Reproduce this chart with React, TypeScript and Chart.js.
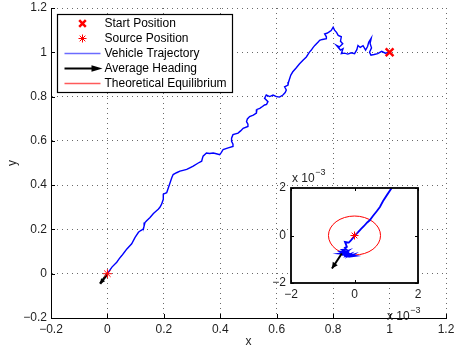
import React, { useEffect, useRef } from "react";
import { Chart, registerables } from "chart.js";

Chart.register(...registerables);

// ---------------- data ----------------
const legendLabels = [
  "Start Position",
  "Source Position",
  "Vehicle Trajectory",
  "Average Heading",
  "Theoretical Equilibrium",
];

const startPos = { x: 1.0, y: 1.0 };
const sourcePos = { x: 0.0, y: 0.0 };

const trajX = [
  1.0, 0.985, 0.972, 0.958, 0.945, 0.934, 0.929, 0.936, 0.931, 0.935, 0.926, 0.922, 0.915, 0.906, 0.896, 0.888,
  0.884, 0.876, 0.864, 0.852, 0.84, 0.829, 0.835, 0.826, 0.812, 0.822, 0.834, 0.826, 0.829, 0.818, 0.812, 0.805,
  0.8, 0.793, 0.786, 0.778, 0.77, 0.776, 0.776, 0.762, 0.752, 0.747, 0.735, 0.728, 0.722, 0.716, 0.705, 0.694,
  0.681, 0.668, 0.657, 0.65, 0.646, 0.642, 0.64, 0.628, 0.634, 0.63, 0.622, 0.61, 0.599, 0.587, 0.575, 0.563,
  0.557, 0.569, 0.564, 0.557, 0.546, 0.54, 0.53, 0.528, 0.517, 0.504, 0.496, 0.493, 0.498, 0.498, 0.481, 0.472,
  0.463, 0.445, 0.44, 0.44, 0.445, 0.445, 0.428, 0.41, 0.404, 0.398, 0.386, 0.375, 0.362, 0.351, 0.339, 0.336,
  0.334, 0.322, 0.304, 0.292, 0.281, 0.268, 0.257, 0.245, 0.233, 0.228, 0.222, 0.216, 0.21, 0.198, 0.198, 0.192,
  0.186, 0.18, 0.168, 0.163, 0.151, 0.139, 0.133, 0.13, 0.127, 0.118, 0.11, 0.098, 0.086, 0.069, 0.06, 0.051,
  0.042, 0.033, 0.016, 0.0,
];
const trajY = [
  1.0, 0.996, 1.004, 0.994, 0.99, 0.987, 1.0, 1.02, 1.04, 1.064, 1.045, 1.026, 1.01, 1.03, 1.022, 1.031,
  1.012, 0.994, 0.998, 0.992, 0.996, 0.994, 1.016, 1.01, 1.031, 1.024, 1.039, 1.05, 1.07, 1.076, 1.09, 1.1,
  1.113, 1.098, 1.092, 1.086, 1.083, 1.07, 1.061, 1.058, 1.054, 1.046, 1.031, 1.02, 1.009, 1.001, 0.979, 0.965,
  0.948, 0.928, 0.912, 0.897, 0.882, 0.866, 0.852, 0.844, 0.83, 0.818, 0.807, 0.798, 0.8, 0.807, 0.8, 0.807,
  0.792, 0.777, 0.765, 0.762, 0.752, 0.747, 0.742, 0.725, 0.716, 0.71, 0.699, 0.687, 0.675, 0.665, 0.657, 0.645,
  0.635, 0.628, 0.612, 0.598, 0.585, 0.575, 0.568, 0.561, 0.548, 0.538, 0.542, 0.545, 0.543, 0.545, 0.531, 0.518,
  0.508, 0.5, 0.486, 0.478, 0.471, 0.467, 0.463, 0.456, 0.448, 0.433, 0.411, 0.388, 0.366, 0.359, 0.336, 0.314,
  0.3, 0.291, 0.278, 0.272, 0.254, 0.239, 0.231, 0.215, 0.202, 0.195, 0.187, 0.164, 0.135, 0.112, 0.097, 0.082,
  0.068, 0.052, 0.03, 0.0,
];

const headingX = [0.0, -0.026];
const headingY = [0.0, -0.045];

// theoretical equilibrium circle (centre and radius)
const equilibriumCenter = { x: 0, y: 0 };
const equilibriumRadius = 0.00082;

// main axes
const mainMin = -0.2;
const mainMax = 1.2;
const mainStep = 0.2;

// inset (values in units of 10^-3)
const insetScaleText = "x 10";
const insetExponent = "\u22123";
const insetMin = -2;
const insetMax = 2;
const insetStep = 2;
const insetTrajX = [
  1.17, 1.02, 0.9, 0.8, 0.7, 0.58, 0.48, 0.4, 0.3, 0.2, 0.1, 0.02, -0.05, -0.12, -0.18, -0.3, -0.24,
  -0.3, -0.26, -0.38, -0.3, -0.45, -0.36, -0.46, -0.3, -0.4, -0.22, -0.28, -0.12, -0.2, -0.02, -0.1, 0.02,
  -0.15, -0.32, -0.2, -0.35, -0.08, -0.25, -0.42, -0.15,
];
const insetTrajY = [
  2.0, 1.7, 1.45, 1.2, 1.02, 0.82, 0.64, 0.55, 0.4, 0.27, 0.12, 0.02, -0.1, -0.22, -0.3, -0.27, -0.48,
  -0.52, -0.58, -0.6, -0.66, -0.68, -0.74, -0.76, -0.78, -0.83, -0.74, -0.86, -0.78, -0.88, -0.8, -0.88, -0.86,
  -0.82, -0.7, -0.64, -0.8, -0.84, -0.9, -0.72, -0.76,
];
const insetHeadingX = [-0.4, -0.71];
const insetHeadingY = [-0.76, -1.39];
const insetEquilibriumRadius = 0.82;

// ---------------- helpers ----------------
const FONT = "'Liberation Sans', Arial, Helvetica, sans-serif";
const TEXT = "#1e1e1e";
const RED = "#ff0000";
const BLUE = "#0000ff";

const fmt = (v: number | string) => {
  const n = Math.round(Number(v) * 10) / 10;
  return n < 0 ? "\u2212" + String(-n) : String(n);
};

const pts = (xs: number[], ys: number[]) => xs.map((x, i) => ({ x, y: ys[i] }));

function arrowHead(ctx: CanvasRenderingContext2D, x0: number, y0: number, x1: number, y1: number, len: number, hw: number) {
  const a = Math.atan2(y1 - y0, x1 - x0);
  const bx = x1 - Math.cos(a) * len;
  const by = y1 - Math.sin(a) * len;
  ctx.beginPath();
  ctx.moveTo(x1, y1);
  ctx.lineTo(bx + Math.sin(a) * hw, by - Math.cos(a) * hw);
  ctx.lineTo(bx - Math.sin(a) * hw, by + Math.cos(a) * hw);
  ctx.closePath();
  ctx.fill();
}

function drawEllipse(chart: any, c: { x: number; y: number }, r: number) {
  const xs = chart.scales.x;
  const ys = chart.scales.y;
  const cx = xs.getPixelForValue(c.x);
  const cy = ys.getPixelForValue(c.y);
  const rx = Math.abs(xs.getPixelForValue(c.x + r) - cx);
  const ry = Math.abs(ys.getPixelForValue(c.y + r) - cy);
  const ctx = chart.ctx as CanvasRenderingContext2D;
  ctx.save();
  ctx.strokeStyle = RED;
  ctx.lineWidth = 1;
  ctx.beginPath();
  ctx.ellipse(cx, cy, Math.max(rx, 0.3), Math.max(ry, 0.3), 0, 0, Math.PI * 2);
  ctx.stroke();
  ctx.restore();
}

function headArrow(chart: any, idx: number, len: number, hw: number) {
  const meta = chart.getDatasetMeta(idx);
  const d = meta.data;
  if (!d || d.length < 2) return;
  const ctx = chart.ctx as CanvasRenderingContext2D;
  ctx.save();
  ctx.fillStyle = "#000";
  arrowHead(ctx, d[0].x, d[0].y, d[d.length - 1].x, d[d.length - 1].y, len, hw);
  ctx.restore();
}

function inwardTicks(chart: any, len: number, sides: { left: boolean; right: boolean; top: boolean; bottom: boolean }, lw: number) {
  const ctx = chart.ctx as CanvasRenderingContext2D;
  const { left, right, top, bottom } = chart.chartArea;
  const xs = chart.scales.x;
  const ys = chart.scales.y;
  ctx.save();
  ctx.strokeStyle = "#000";
  ctx.lineWidth = lw;
  ctx.beginPath();
  xs.ticks.forEach((t: any) => {
    const px = Math.round(xs.getPixelForValue(t.value)) + 0.5;
    if (sides.bottom) { ctx.moveTo(px, bottom); ctx.lineTo(px, bottom - len); }
    if (sides.top) { ctx.moveTo(px, top); ctx.lineTo(px, top + len); }
  });
  ys.ticks.forEach((t: any) => {
    const py = Math.round(ys.getPixelForValue(t.value)) + 0.5;
    if (sides.left) { ctx.moveTo(left, py); ctx.lineTo(left + len, py); }
    if (sides.right) { ctx.moveTo(right, py); ctx.lineTo(right - len, py); }
  });
  ctx.stroke();
  ctx.restore();
}

function drawLegend(chart: any) {
  const ctx = chart.ctx as CanvasRenderingContext2D;
  const ca = chart.chartArea;
  const L = Math.round(ca.left + 6) + 0.5;
  const T = Math.round(ca.top + 6) + 0.5;
  const W = 175;
  const H = 78;
  ctx.save();
  ctx.fillStyle = "#fff";
  ctx.fillRect(L, T, W, H);
  ctx.strokeStyle = "#000";
  ctx.lineWidth = 1.2;
  ctx.strokeRect(L, T, W, H);
  const symX = L + 25;
  const lx0 = L + 7;
  const lx1 = L + 43;
  const tx = L + 47;
  ctx.font = `12px ${FONT}`;
  ctx.textBaseline = "middle";
  ctx.textAlign = "left";
  legendLabels.forEach((lab, i) => {
    const y = T + 9 + i * 15;
    ctx.save();
    if (i === 0) {
      ctx.strokeStyle = RED;
      ctx.lineWidth = 2.5;
      const r = 3.3;
      ctx.beginPath();
      ctx.moveTo(symX - r, y - r); ctx.lineTo(symX + r, y + r);
      ctx.moveTo(symX - r, y + r); ctx.lineTo(symX + r, y - r);
      ctx.stroke();
    } else if (i === 1) {
      ctx.strokeStyle = RED;
      ctx.lineWidth = 1;
      const r = 4;
      const d = r * Math.SQRT1_2;
      ctx.beginPath();
      ctx.moveTo(symX - r, y); ctx.lineTo(symX + r, y);
      ctx.moveTo(symX, y - r); ctx.lineTo(symX, y + r);
      ctx.moveTo(symX - d, y - d); ctx.lineTo(symX + d, y + d);
      ctx.moveTo(symX - d, y + d); ctx.lineTo(symX + d, y - d);
      ctx.stroke();
    } else if (i === 2 || i === 4) {
      ctx.strokeStyle = i === 2 ? "#6b6bff" : "#ff5a5a";
      ctx.lineWidth = 1.5;
      ctx.beginPath();
      ctx.moveTo(lx0, y); ctx.lineTo(lx1, y);
      ctx.stroke();
    } else if (i === 3) {
      ctx.strokeStyle = "#000";
      ctx.fillStyle = "#000";
      ctx.lineWidth = 2;
      ctx.beginPath();
      ctx.moveTo(lx0, y); ctx.lineTo(lx1 - 6, y);
      ctx.stroke();
      arrowHead(ctx, lx0, y, lx1 + 2, y, 11, 3.2);
    }
    ctx.restore();
    ctx.fillStyle = "#000";
    ctx.fillText(lab, tx, y + 0.5);
  });
  ctx.restore();
}

function mainConfig(): any {
  return {
    type: "scatter",
    data: {
      datasets: [
        {
          label: legendLabels[0],
          data: [startPos],
          pointStyle: "crossRot",
          pointRadius: 5.5,
          borderColor: RED,
          backgroundColor: RED,
          pointBorderWidth: 2.5,
          showLine: false,
          order: 0,
        },
        {
          label: legendLabels[1],
          data: [sourcePos],
          pointStyle: "star",
          pointRadius: 4.5,
          borderColor: RED,
          backgroundColor: RED,
          pointBorderWidth: 1,
          showLine: false,
          order: 1,
        },
        {
          label: legendLabels[2],
          data: pts(trajX, trajY),
          showLine: true,
          borderColor: BLUE,
          backgroundColor: BLUE,
          borderWidth: 1.4,
          pointRadius: 0,
          tension: 0,
          order: 3,
        },
        {
          label: legendLabels[3],
          data: pts(headingX, headingY),
          showLine: true,
          borderColor: "#000",
          backgroundColor: "#000",
          borderWidth: 2.5,
          pointRadius: 0,
          order: 2,
        },
      ],
    },
    options: {
      responsive: false,
      animation: false,
      devicePixelRatio: 1,
      events: [],
      layout: { padding: { left: 0, top: 6, right: 7, bottom: 0 } },
      plugins: { legend: { display: false }, tooltip: { enabled: false } },
      scales: {
        x: {
          type: "linear",
          min: mainMin,
          max: mainMax,
          afterFit: (s: any) => { s.height = 38; s.paddingLeft = 0; s.paddingRight = 0; },
          ticks: { stepSize: mainStep, callback: fmt, color: TEXT, font: { size: 12, family: FONT }, padding: 4.5, maxRotation: 0, autoSkip: false },
          grid: { color: "#6a6a6a", lineWidth: 1, drawTicks: false },
          border: { display: true, color: "#000", width: 1, dash: [1, 4] },
          title: { display: true, text: "x", color: TEXT, font: { size: 12, family: FONT }, padding: { top: 0, bottom: 6.8 } },
        },
        y: {
          type: "linear",
          min: mainMin,
          max: mainMax,
          afterFit: (s: any) => { s.width = 51; s.paddingTop = 0; s.paddingBottom = 0; },
          ticks: { stepSize: mainStep, callback: fmt, color: TEXT, font: { size: 12, family: FONT }, padding: 4, autoSkip: false },
          grid: { color: "#6a6a6a", lineWidth: 1, drawTicks: false },
          border: { display: true, color: "#000", width: 1, dash: [1, 4] },
          title: { display: true, text: "y", color: TEXT, font: { size: 12, family: FONT }, padding: { top: 5.8, bottom: 0 } },
        },
      },
    },
    plugins: [
      {
        id: "mainExtras",
        beforeDatasetsDraw(chart: any) {
          drawEllipse(chart, equilibriumCenter, equilibriumRadius);
        },
        afterDatasetsDraw(chart: any) {
          headArrow(chart, 3, 5, 2.5);
          inwardTicks(chart, 4, { left: true, bottom: true, top: false, right: false }, 1);
        },
        afterDraw(chart: any) {
          drawLegend(chart);
        },
      },
    ],
  };
}

function insetConfig(): any {
  return {
    type: "scatter",
    data: {
      datasets: [
        {
          label: legendLabels[1],
          data: [sourcePos],
          pointStyle: "star",
          pointRadius: 4,
          borderColor: RED,
          backgroundColor: RED,
          pointBorderWidth: 1,
          showLine: false,
          order: 0,
        },
        {
          label: legendLabels[2],
          data: pts(insetTrajX, insetTrajY),
          showLine: true,
          borderColor: BLUE,
          backgroundColor: BLUE,
          borderWidth: 1.8,
          pointRadius: 0,
          tension: 0,
          order: 2,
        },
        {
          label: legendLabels[3],
          data: pts(insetHeadingX, insetHeadingY),
          showLine: true,
          borderColor: "#000",
          backgroundColor: "#000",
          borderWidth: 2,
          pointRadius: 0,
          order: 1,
        },
      ],
    },
    options: {
      responsive: false,
      animation: false,
      devicePixelRatio: 1,
      events: [],
      layout: { padding: { left: 0, top: 28, right: 32, bottom: 0 } },
      plugins: { legend: { display: false }, tooltip: { enabled: false } },
      scales: {
        x: {
          type: "linear",
          min: insetMin,
          max: insetMax,
          afterFit: (s: any) => { s.height = 42; s.paddingLeft = 0; s.paddingRight = 0; },
          ticks: { stepSize: insetStep, callback: fmt, color: TEXT, font: { size: 12, family: FONT }, padding: 4, maxRotation: 0, autoSkip: false },
          grid: { display: false, drawTicks: false },
          border: { display: false },
        },
        y: {
          type: "linear",
          min: insetMin,
          max: insetMax,
          afterFit: (s: any) => { s.width = 41; s.paddingTop = 0; s.paddingBottom = 0; },
          ticks: { stepSize: insetStep, callback: fmt, color: TEXT, font: { size: 12, family: FONT }, padding: 5, autoSkip: false },
          grid: { display: false, drawTicks: false },
          border: { display: false },
        },
      },
    },
    plugins: [
      {
        id: "insetExtras",
        beforeDatasetsDraw(chart: any) {
          const ctx = chart.ctx as CanvasRenderingContext2D;
          const ca = chart.chartArea;
          ctx.save();
          ctx.fillStyle = "#fff";
          ctx.fillRect(ca.left, ca.top, ca.right - ca.left, ca.bottom - ca.top);
          ctx.restore();
          drawEllipse(chart, equilibriumCenter, insetEquilibriumRadius);
        },
        afterDatasetsDraw(chart: any) {
          headArrow(chart, 2, 6, 3);
          const ctx = chart.ctx as CanvasRenderingContext2D;
          const ca = chart.chartArea;
          inwardTicks(chart, 3, { left: true, bottom: true, top: true, right: true }, 1);
          ctx.save();
          ctx.strokeStyle = "#000";
          ctx.lineWidth = 1.8;
          ctx.strokeRect(ca.left, ca.top, ca.right - ca.left, ca.bottom - ca.top);
          // multiplier labels
          ctx.fillStyle = TEXT;
          ctx.textAlign = "left";
          ctx.textBaseline = "alphabetic";
          const drawMult = (x: number, y: number) => {
            ctx.font = `12px ${FONT}`;
            ctx.fillText(insetScaleText, x, y);
            const w = ctx.measureText(insetScaleText).width;
            ctx.font = `9px ${FONT}`;
            ctx.fillText(insetExponent, x + w + 0.5, y - 7);
          };
          drawMult(ca.left + 1, ca.top - 6);
          drawMult(ca.right - 31, ca.bottom + 37);
          ctx.restore();
        },
      },
    ],
  };
}

export default function App() {
  const mainRef = useRef<HTMLCanvasElement>(null);
  const insetRef = useRef<HTMLCanvasElement>(null);

  useEffect(() => {
    const main = new Chart(mainRef.current as HTMLCanvasElement, mainConfig());
    const inset = new Chart(insetRef.current as HTMLCanvasElement, insetConfig());
    return () => {
      main.destroy();
      inset.destroy();
    };
  }, []);

  return (
    <div style={{ position: "fixed", left: 0, top: 0, width: 454, height: 356, background: "#fff" }}>
      <canvas
        ref={mainRef}
        width={454}
        height={356}
        style={{ position: "absolute", left: 0, top: 0, width: 454, height: 356 }}
      />
      <canvas
        ref={insetRef}
        width={200}
        height={165}
        style={{ position: "absolute", left: 250, top: 160, width: 200, height: 165 }}
      />
    </div>
  );
}
